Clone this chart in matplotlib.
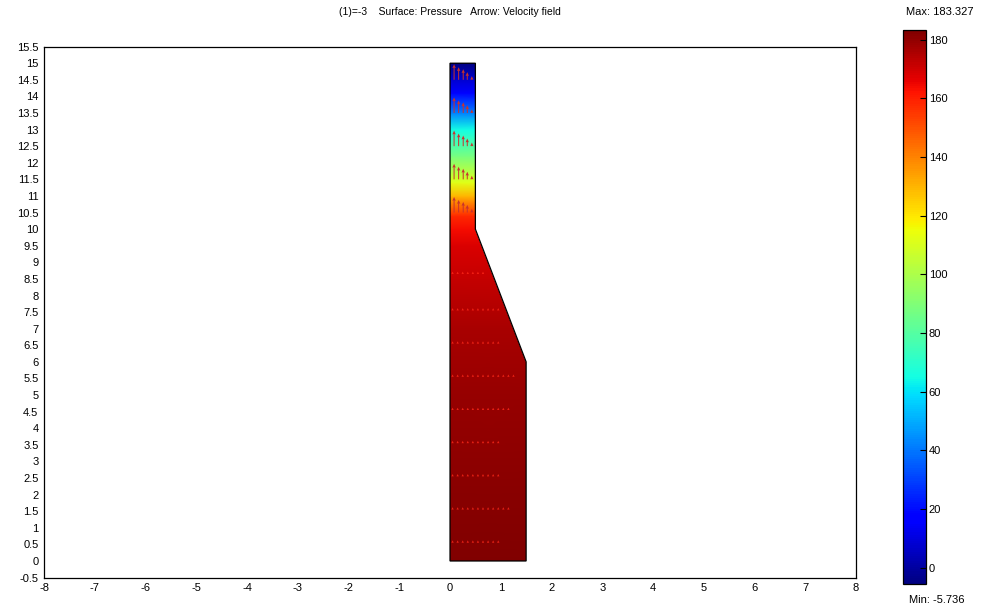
import numpy as np
import matplotlib
matplotlib.use("Agg")
import matplotlib.pyplot as plt
from matplotlib.patches import Polygon
from matplotlib.ticker import FormatStrFormatter

plt.rcParams["font.family"] = ["Liberation Sans", "DejaVu Sans"]
plt.rcParams["axes.unicode_minus"] = False

# Geometry outline (x, y)
geom_x = [0.0, 1.5, 1.5, 0.5, 0.5, 0.0]
geom_y = [0.0, 0.0, 6.0, 10.0, 15.0, 15.0]

# Pressure profile along y
p_y = [0.0, 3.0, 5.0, 7.0, 8.5, 9.5, 10.0, 10.4, 11.0, 11.4, 12.2, 13.0, 13.5, 14.1, 14.5, 15.0]
p_val = [183.3, 181.0, 179.0, 176.0, 172.0, 168.0, 164.0, 158.0, 130.0, 112.0, 88.0, 65.0, 42.0, 18.0, 8.0, -5.7]
p_min, p_max = -5.736, 183.327

# Velocity arrows in the narrow channel
ch_rows = [14.5, 13.5, 12.5, 11.5, 10.5]
ch_x = [0.08, 0.17, 0.26, 0.34, 0.43]
ch_v = [0.47, 0.38, 0.32, 0.23, 0.11]

# Velocity arrows in the wide part (tiny)
low_rows = [8.65, 7.55, 6.55, 5.55, 4.55, 3.55, 2.55, 1.55, 0.55]
low_xmax = [0.75, 1.05, 1.05, 1.35, 1.2, 1.0, 1.0, 1.25, 0.97]
low_v = 0.07

fig = plt.figure(figsize=(9.83, 6.11), dpi=100)
ax = fig.add_axes([0.0448, 0.0547, 0.826, 0.869])
cax = fig.add_axes([0.9186, 0.0434, 0.0234, 0.9075])

# surface
X = np.array([[0.0, 1.5]] * len(p_y))
Y = np.column_stack([p_y, p_y])
C = np.column_stack([p_val, p_val])
mesh = ax.pcolormesh(X, Y, C, shading="gouraud", cmap="jet", vmin=p_min, vmax=p_max)
outline = Polygon(np.column_stack([geom_x, geom_y]), closed=True,
                  facecolor="none", edgecolor="black", lw=0.9, zorder=4)
ax.add_patch(outline)
mesh.set_clip_path(outline)

# arrows
qx, qy, qv = [], [], []
for r in ch_rows:
    for xx, vv in zip(ch_x, ch_v):
        qx.append(xx); qy.append(r); qv.append(vv)
ax.quiver(qx, qy, np.zeros(len(qx)), qv, angles="xy", scale_units="xy", scale=1,
          color="#c8322d", width=0.0012, headwidth=3.5, headlength=4, headaxislength=3.5,
          zorder=5)

lx, ly = [], []
for r, xm in zip(low_rows, low_xmax):
    for xx in np.arange(0.05, xm, 0.1):
        lx.append(xx); ly.append(r)
ax.quiver(lx, ly, np.zeros(len(lx)), np.full(len(lx), low_v), angles="xy",
          scale_units="xy", scale=1, color="#ff2a1a", width=0.0016,
          headwidth=2, headlength=2, headaxislength=2, alpha=0.8, zorder=5)

ax.set_xlim(-8, 8)
ax.set_ylim(-0.5, 15.5)
ax.set_xticks(np.arange(-8, 9, 1))
ax.set_yticks(np.arange(-0.5, 15.6, 0.5))
ax.yaxis.set_major_formatter(FormatStrFormatter("%g"))
ax.tick_params(length=0, labelsize=8, pad=4)
for s in ax.spines.values():
    s.set_linewidth(0.9)

# colorbar
cb = fig.colorbar(mesh, cax=cax, ticks=np.arange(0, 181, 20))
cb.outline.set_linewidth(0.9)
cax.tick_params(direction="in", length=4, width=0.8, labelsize=8, pad=2)

fig.text(450 / 983, 1 - 12 / 611, "(1)=-3    Surface: Pressure   Arrow: Velocity field",
         ha="center", va="center", fontsize=7.5)
fig.text(940 / 983, 1 - 12 / 611, "Max: 183.327", ha="center", va="center", fontsize=8)
fig.text(937 / 983, 1 - 600 / 611, "Min: -5.736", ha="center", va="center", fontsize=8)

fig.savefig("out.png", dpi=100)
